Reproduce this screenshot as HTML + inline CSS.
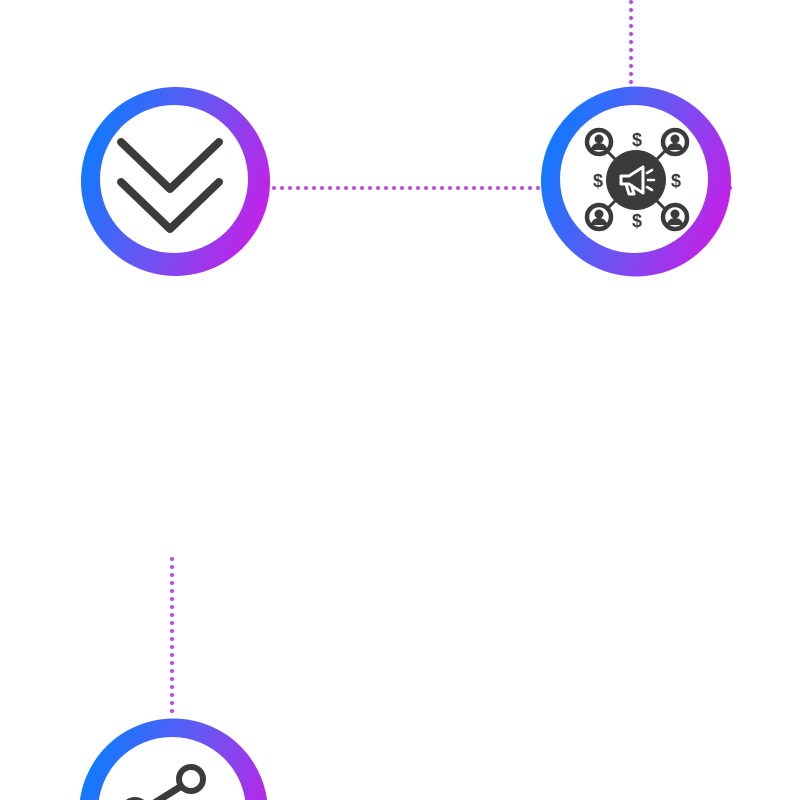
<!DOCTYPE html>
<html><head><style>html,body{margin:0;padding:0;background:#fff;width:800px;height:800px;overflow:hidden;}svg{display:block;overflow:hidden}</style></head>
<body>
<svg width="800" height="800" viewBox="0 0 800 800" xmlns="http://www.w3.org/2000/svg">
<defs>
<linearGradient id="g" x1="0" y1="0.3" x2="1" y2="0.7">
<stop offset="0" stop-color="#0a7cff"/>
<stop offset="0.5" stop-color="#6a55f2"/>
<stop offset="1" stop-color="#c81ee6"/>
</linearGradient>
<clipPath id="c"><rect x="0" y="0" width="800" height="800"/></clipPath>
</defs>
<g clip-path="url(#c)">
<g stroke="#b84ce8" stroke-width="4" stroke-linecap="round" stroke-dasharray="0 8" fill="none">
<line x1="274" y1="188" x2="540" y2="188"/>
<line x1="631" y1="2" x2="631" y2="84"/>
<line x1="172" y1="559" x2="172" y2="718"/>
</g>
<circle cx="730" cy="188" r="2" fill="#c040e8"/>
<circle cx="175.5" cy="181.5" r="94.5" fill="url(#g)"/>
<circle cx="174" cy="179" r="74" fill="#fff"/>
<g stroke="#3b3b3b" stroke-width="8" stroke-linecap="round" stroke-linejoin="round" fill="none">
<polyline points="121,142 170,189 219,142"/>
<polyline points="121,182 170,229 219,182"/>
</g>
<circle cx="636" cy="181.5" r="95" fill="url(#g)"/>
<circle cx="634" cy="179" r="74" fill="#fff"/>
<g stroke="#3b3b3b" stroke-width="3">
<line x1="599" y1="143" x2="673" y2="217"/>
<line x1="673" y1="143" x2="599" y2="217"/>
</g>
<circle cx="636" cy="180" r="30" fill="#3b3b3b"/>
<path d="M621,176 h8 l14,-9 v26 l-14,-9 h-8 z M626,184 l3,10 h5 l-3,-10" fill="none" stroke="#fff" stroke-width="3" stroke-linejoin="round"/>
<g stroke="#fff" stroke-width="2.5" stroke-linecap="round"><line x1="647" y1="173" x2="652" y2="170"/><line x1="648" y1="180" x2="654" y2="180"/><line x1="647" y1="187" x2="652" y2="190"/></g>
<g fill="#fff" stroke="#3b3b3b" stroke-width="4.5">
<circle cx="599" cy="142" r="12"/><circle cx="675" cy="142" r="12"/>
<circle cx="599" cy="217" r="12"/><circle cx="675" cy="217" r="12"/>
</g>
<g fill="#3b3b3b">
<circle cx="599" cy="139" r="4.5"/><path d="M591,150 a8,7 0 0 1 16,0z"/>
<circle cx="675" cy="139" r="4.5"/><path d="M667,150 a8,7 0 0 1 16,0z"/>
<circle cx="599" cy="214" r="4.5"/><path d="M591,225 a8,7 0 0 1 16,0z"/>
<circle cx="675" cy="214" r="4.5"/><path d="M667,225 a8,7 0 0 1 16,0z"/>
</g>
<g font-family="Liberation Sans, sans-serif" font-weight="bold" font-size="18" fill="#3b3b3b" text-anchor="middle">
<text x="637" y="146">$</text><text x="637" y="227">$</text>
<text x="598" y="187">$</text><text x="676" y="187">$</text>
</g>
<circle cx="173.5" cy="813" r="94.5" fill="url(#g)"/>
<circle cx="172" cy="811" r="74" fill="#fff"/>
<line x1="180" y1="787" x2="140" y2="812" stroke="#3b3b3b" stroke-width="7" stroke-linecap="round"/>
<circle cx="191" cy="779" r="12" fill="#fff" stroke="#3b3b3b" stroke-width="6"/>
<circle cx="135" cy="812" r="12" fill="#fff" stroke="#3b3b3b" stroke-width="6"/>
</g>
</svg>
</body></html>
